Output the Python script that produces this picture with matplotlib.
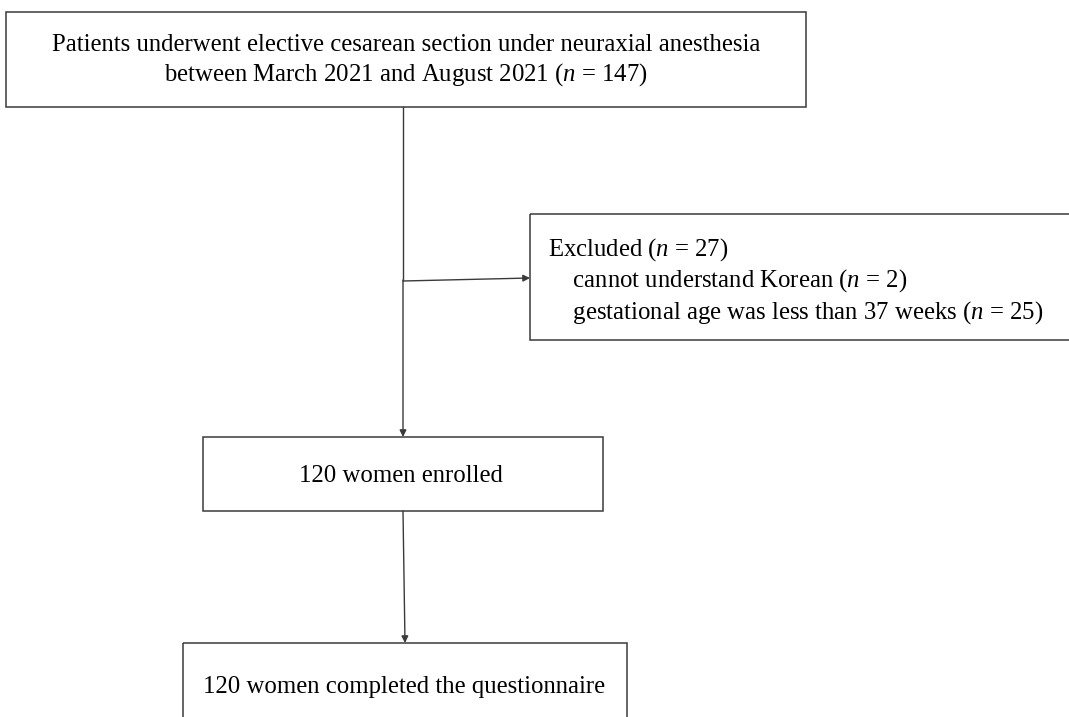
import matplotlib.pyplot as plt
from matplotlib.patches import Rectangle

plt.rcParams["font.family"] = ["Liberation Serif", "DejaVu Serif"]
plt.rcParams["mathtext.fontset"] = "custom"
plt.rcParams["mathtext.rm"] = "Liberation Serif"
plt.rcParams["mathtext.it"] = "Liberation Serif:italic"

# flow counts
total_n = 147
excluded_n = 27
reason_labels = ["cannot understand Korean", "gestational age was less than 37 weeks"]
reason_counts = [2, 25]
enrolled_n = 120
completed_n = 120

top_text = ("Patients underwent elective cesarean section under neuraxial anesthesia\n"
            f"between March 2021 and August 2021 ($n$ = {total_n})")
excl_lines = [f"Excluded ($n$ = {excluded_n})"] + [
    f"    {lab} ($n$ = {c})" for lab, c in zip(reason_labels, reason_counts)]
enrolled_text = f"{enrolled_n} women enrolled"
completed_text = f"{completed_n} women completed the questionnaire"

W, H = 1069, 717
fig = plt.figure(figsize=(W / 100, H / 100), dpi=100)
ax = fig.add_axes([0, 0, 1, 1])
ax.set_xlim(0, W)
ax.set_ylim(H, 0)
ax.axis("off")

edge = "#3a3a3a"
fs = 17.8


def box(x0, y0, x1, y1):
    ax.add_patch(Rectangle((x0, y0), x1 - x0, y1 - y0, fill=False,
                           edgecolor=edge, linewidth=1.1))


def arrow(x0, y0, x1, y1):
    ax.annotate("", xy=(x1, y1), xytext=(x0, y0),
                arrowprops=dict(arrowstyle="-|>", color=edge, lw=1.0,
                                mutation_scale=10, shrinkA=0, shrinkB=0))


# boxes
box(6, 12, 806, 107)
box(530, 214, 1075, 340)
box(203, 437, 603, 511)
box(183, 643, 627, 725)

# connectors
ax.plot([403, 403], [107, 280], color=edge, lw=1.0)
arrow(403, 280, 403, 437)
arrow(403, 281, 530, 278)
arrow(403, 511, 405, 643)

ax.text(406, 61, top_text, ha="center", va="center", fontsize=fs,
        linespacing=1.22)
ax.text(548, 281, "\n".join(excl_lines), ha="left", va="center",
        fontsize=fs, linespacing=1.25)
ax.text(401, 476, enrolled_text, ha="center", va="center", fontsize=fs)
ax.text(404, 687, completed_text, ha="center", va="center", fontsize=fs)

fig.savefig("out.png", dpi=100)
